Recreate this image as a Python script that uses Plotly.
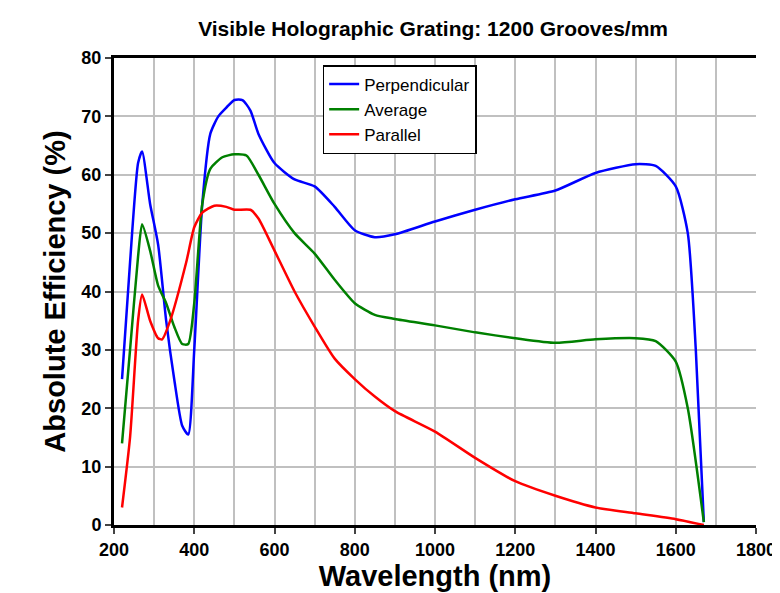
import plotly.graph_objects as go

wl_perp = [220,240,260,270,290,310,330,350,370,385,400,420,440,460,480,500,520,540,560,600,650,700,750,800,850,900,1000,1100,1200,1300,1400,1500,1550,1600,1630,1650,1670]
perp = [25,45,62,64,55,48,35,25,17,15.5,30,55,67,70,71.5,72.8,72.8,71,67,62,59.2,58,54.5,50.5,49.3,49.8,52,54,55.8,57.3,60.3,61.8,61.5,58,50,30,0.5]
wl_avg = [220,240,260,270,290,310,330,350,370,385,400,420,440,470,500,530,560,600,650,700,750,800,850,900,1000,1100,1200,1300,1400,1500,1550,1600,1630,1670]
avg = [14,30,46,51.5,47,41,38,34,31,31,38,55,61,63,63.5,63.3,60,55,50,46.5,42,38,36,35.3,34.2,33,32,31.2,31.8,32,31.5,28,20,0.5]
wl_par = [220,240,260,270,290,310,320,340,380,400,420,450,480,500,540,560,600,650,700,750,800,850,900,1000,1100,1200,1300,1400,1500,1600,1670]
par = [3,15,35,39.5,35,32,31.8,35,45,51,53.5,54.7,54.5,54,54,52.5,47,40,34,28.5,25,22,19.5,16,11.5,7.5,5,3,2,1,0]

fig = go.Figure()
for x, y, n, c in [(wl_perp, perp, "Perpendicular", "#0000ff"),
                   (wl_avg, avg, "Average", "#008000"),
                   (wl_par, par, "Parallel", "#ff0000")]:
    fig.add_trace(go.Scatter(x=x, y=y, name=n, mode="lines",
                             line=dict(color=c, width=2.5, shape="spline", smoothing=0.6)))

f = "Liberation Sans, Arial, sans-serif"
fig.update_layout(
    width=780, height=593, plot_bgcolor="white", paper_bgcolor="white",
    margin=dict(l=106, r=28, t=50, b=76),
    title=dict(text="<b>Visible Holographic Grating: 1200 Grooves/mm</b>", x=0.545, y=0.978,
               xanchor="center", font=dict(family=f, size=21, color="black")),
    legend=dict(x=0.325, y=0.985, xanchor="left", yanchor="top", bordercolor="black",
                borderwidth=1.5, bgcolor="white", font=dict(family=f, size=17, color="black"),
                tracegroupgap=0),
    xaxis=dict(range=[200, 1800], tickvals=list(range(200, 1801, 200)),
               title=dict(text="<b>Wavelength (nm)</b>", font=dict(family=f, size=29, color="black"), standoff=6),
               tickfont=dict(family=f, size=18, color="black", weight="bold"),
               showline=True, linecolor="black", linewidth=3, mirror=False,
               ticks="outside", ticklen=6, tickwidth=2,
               showgrid=False, zeroline=False),
    xaxis2=dict(overlaying="x", range=[200, 1800], dtick=100, showgrid=True, gridcolor="#c0c0c0",
                gridwidth=1.5, showticklabels=False, side="top", showline=True, linecolor="black", linewidth=3),
    yaxis=dict(range=[0, 80], dtick=10,
               title=dict(text="<b>Absolute Efficiency (%)</b>", font=dict(family=f, size=29, color="black"), standoff=8),
               tickfont=dict(family=f, size=18, color="black", weight="bold"),
               showline=True, linecolor="black", linewidth=3,
               ticks="outside", ticklen=6, tickwidth=2,
               showgrid=True, gridcolor="#c0c0c0", gridwidth=1.5, zeroline=False),
)
fig.add_trace(go.Scatter(x=[200], y=[None], xaxis="x2", showlegend=False, hoverinfo="skip"))
fig.write_html("out.html")
